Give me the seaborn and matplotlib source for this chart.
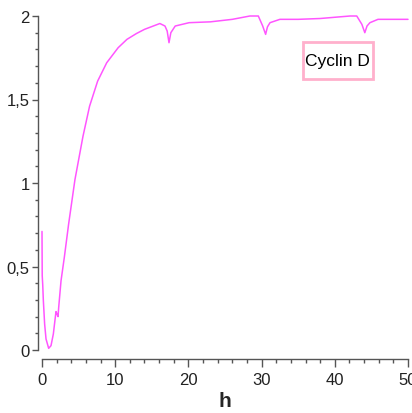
import matplotlib
matplotlib.use('Agg')
import matplotlib.pyplot as plt
from matplotlib.patches import Rectangle
from matplotlib.ticker import MultipleLocator
import seaborn as sns

# values
t = [0, 0.03, 0.1, 0.18, 0.36, 0.55, 0.91, 1.23, 1.55, 1.91, 2.05, 2.19, 2.28,
     2.6, 3.05, 3.64, 4.5, 5.6, 6.5, 7.6, 8.84, 10.4, 11.6, 12.9, 14.0, 15.2,
     16.1, 16.8, 17.1, 17.35, 17.6, 18.2, 20.1, 23, 26, 28.4, 29.55, 30.15,
     30.55, 30.8, 31.15, 32.5, 35, 38, 40.7, 42.1, 43.0, 43.7, 44.1, 44.4,
     44.8, 45.9, 48, 50]
cyclin_d = [0.71, 0.445, 0.39, 0.30, 0.155, 0.066, 0.01, 0.026, 0.096, 0.23,
            0.215, 0.20, 0.255, 0.415, 0.555, 0.755, 1.02, 1.28, 1.46, 1.61,
            1.72, 1.81, 1.86, 1.895, 1.92, 1.94, 1.955, 1.94, 1.91, 1.84, 1.90,
            1.94, 1.96, 1.965, 1.98, 2.00, 2.00, 1.94, 1.89, 1.935, 1.96, 1.98,
            1.98, 1.985, 1.995, 2.00, 2.00, 1.95, 1.90, 1.94, 1.96, 1.98, 1.98,
            1.98]

xticks = [0, 10, 20, 30, 40, 50]
yticks = [0, 0.5, 1, 1.5, 2]
ytick_labels = ['0', '0,5', '1', '1,5', '2']
series_name = 'Cyclin D'

sns.set_style('ticks')
plt.rcParams['font.family'] = ['Liberation Sans Narrow', 'DejaVu Sans Condensed',
                               'Noto Sans Condensed', 'Liberation Sans']

fig = plt.figure(figsize=(4.12, 4.14), dpi=100)
ax = fig.add_axes([42 / 412, 63 / 414, 366 / 412, 334 / 414])

sns.lineplot(x=t, y=cyclin_d, ax=ax, color='#ff55ff', linewidth=1.1)
for ln in ax.lines:
    ln.set_clip_on(False)

ax.set_xlim(0, 50)
ax.set_ylim(0, 2)
ax.set_xticks(xticks)
ax.set_yticks(yticks)
ax.set_yticklabels(ytick_labels)
ax.xaxis.set_minor_locator(MultipleLocator(2))
ax.yaxis.set_minor_locator(MultipleLocator(0.1))

for s in ['top', 'right']:
    ax.spines[s].set_visible(False)
ax.spines['left'].set_position(('outward', 2.9))
ax.spines['bottom'].set_position(('outward', 6.5))
for s in ['left', 'bottom']:
    ax.spines[s].set_color('#555555')
    ax.spines[s].set_linewidth(1.0)

ax.tick_params(axis='both', which='both', direction='out', color='#555555',
               labelcolor='#222222', labelsize=12, width=1.0)
ax.tick_params(axis='x', which='major', length=6, pad=3)
ax.tick_params(axis='x', which='minor', length=3)
ax.tick_params(axis='y', which='major', length=4.5, pad=1.5)
ax.tick_params(axis='y', which='minor', length=2.5)

ax.set_xlabel('h', fontsize=15, fontweight='bold', labelpad=3)
ax.set_ylabel('')

# legend-like box
ax.add_patch(Rectangle((0.713, 0.811), 0.191, 0.111, transform=ax.transAxes,
                       facecolor='white', edgecolor='#ffb0cc', linewidth=2,
                       zorder=5))
ax.text(0.8085, 0.866, series_name, transform=ax.transAxes, ha='center',
        va='center', fontsize=12.5, color='black', zorder=6)

fig.savefig('out.png', dpi=100)
